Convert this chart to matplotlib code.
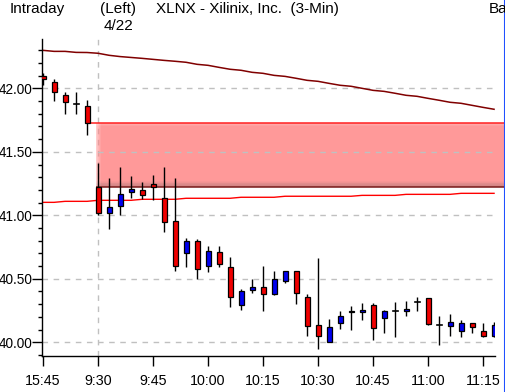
"""Intraday 3-minute candlestick chart for XLNX with gap band and moving averages."""

import matplotlib

matplotlib.use("Agg")
import matplotlib.pyplot as plt
from matplotlib.lines import Line2D
from matplotlib.patches import Rectangle
from matplotlib.ticker import FormatStrFormatter, MultipleLocator

# OHLC for each 3-min bar: 15:45-15:57 of the previous day, then 9:30 onward
opens = [42.10, 42.05, 41.95, 41.88, 41.86, 41.22, 41.02, 41.07, 41.18, 41.20,
         41.245, 41.14, 40.955, 40.705, 40.80, 40.60, 40.71, 40.59, 40.29, 40.41,
         40.435, 40.38, 40.48, 40.56, 40.36, 40.14, 40.005, 40.15, 40.235, 40.235,
         40.29, 40.195, 40.25, 40.25, 40.315, 40.345, 40.135, 40.13, 40.09, 40.15,
         40.09, 40.05]
highs = [42.12, 42.07, 41.97, 41.97, 41.91, 41.41, 41.29, 41.38, 41.31, 41.26,
         41.32, 41.38, 41.29, 40.82, 40.81, 40.76, 40.76, 40.67, 40.42, 40.50,
         40.60, 40.56, 40.565, 40.565, 40.38, 40.665, 40.18, 40.245, 40.285, 40.31,
         40.31, 40.255, 40.315, 40.325, 40.355, 40.35, 40.205, 40.22, 40.175, 40.15,
         40.155, 40.16]
lows = [42.03, 41.90, 41.80, 41.80, 41.63, 41.00, 40.89, 41.00, 41.14, 41.13,
        41.12, 40.87, 40.56, 40.595, 40.50, 40.555, 40.595, 40.28, 40.255, 40.39,
        40.25, 40.375, 40.47, 40.30, 40.05, 39.945, 40.00, 40.105, 40.095, 40.175,
        40.02, 40.075, 40.045, 40.21, 40.245, 40.135, 39.98, 40.05, 40.04, 40.075,
        40.045, 40.04]
closes = [42.07, 41.97, 41.89, 41.875, 41.73, 41.02, 41.065, 41.17, 41.21, 41.16,
          41.22, 40.945, 40.60, 40.80, 40.58, 40.72, 40.615, 40.36, 40.40, 40.435,
          40.38, 40.50, 40.56, 40.385, 40.13, 40.05, 40.12, 40.21, 40.245, 40.255,
          40.115, 40.245, 40.25, 40.26, 40.315, 40.145, 40.135, 40.16, 40.15, 40.12,
          40.05, 40.14]

# slow moving average (dark red) and step line (red)
ma_slow = [42.299, 42.291, 42.291, 42.283, 42.282, 42.276, 42.260, 42.250, 42.243, 42.236,
           42.228, 42.220, 42.213, 42.205, 42.189, 42.181, 42.165, 42.150, 42.142, 42.126,
           42.118, 42.102, 42.094, 42.079, 42.063, 42.055, 42.039, 42.024, 42.016, 42.000,
           41.984, 41.976, 41.961, 41.945, 41.937, 41.921, 41.906, 41.890, 41.882, 41.866,
           41.850, 41.835]
ma_long = [41.102, 41.102, 41.110, 41.110, 41.110, 41.118, 41.118, 41.118, 41.118, 41.126,
           41.126, 41.126, 41.126, 41.134, 41.134, 41.134, 41.134, 41.134, 41.142, 41.142,
           41.142, 41.142, 41.150, 41.150, 41.150, 41.150, 41.150, 41.150, 41.150, 41.157,
           41.157, 41.157, 41.157, 41.165, 41.165, 41.165, 41.165, 41.165, 41.173, 41.173,
           41.173, 41.173]

tick_labels = ["15:45", "9:30", "9:45", "10:00", "10:15", "10:30", "10:45", "11:00", "11:15"]
session_start = 5  # first bar of 4/22

UP = "#0000f0"
DOWN = "#f00000"
GRID = "#c0c0c0"
FONT = ["Liberation Sans", "DejaVu Sans"]

n = len(opens)
fig = plt.figure(figsize=(5.06, 3.92), dpi=100)
ax = fig.add_axes([42.5 / 506, 36 / 392, 452.5 / 506, 316.7 / 392])
ax.set_xlim(-0.05, -0.05 + 452.5 / 11)
ax.set_ylim(39.892, 42.386)
x_end = -0.05 + 462.5 / 11

# grid
ax.yaxis.set_major_locator(MultipleLocator(0.5))
ax.yaxis.set_minor_locator(MultipleLocator(0.1))
ax.grid(axis="y", which="major", color=GRID, linestyle=(0, (4, 4)), lw=1, zorder=0.5)
ax.axvline(session_start, color=GRID, linestyle=(0, (4, 4)), lw=1, zorder=0.5)

# opening gap band: previous close -> today's open
gap_top = closes[session_start - 1]
gap_bot = opens[session_start]
gx0 = session_start - 0.2
ax.fill_between([gx0, x_end], gap_bot, gap_top, color="red", alpha=0.4, lw=0,
                zorder=1, clip_on=False)
h = gap_top - gap_bot
for k in range(8):
    y0 = gap_bot + h * 0.0125 * k
    ax.fill_between([gx0, x_end], y0, y0 + h * 0.0125, color="#505050",
                    alpha=0.32 * (1 - k / 8), lw=0, zorder=1.1, clip_on=False)
for k in range(4):
    y1 = gap_top - h * 0.012 * k
    ax.fill_between([gx0, x_end], y1 - h * 0.012, y1, color="white",
                    alpha=0.3 * (1 - k / 4), lw=0, zorder=1.1, clip_on=False)
for k in range(5):
    ax.fill_between([gx0 + k * 0.09, gx0 + (k + 1) * 0.09], gap_bot, gap_top,
                    color="white", alpha=0.5 * (1 - k / 5), lw=0, zorder=1.2)
ax.plot([session_start - 1, x_end], [gap_top, gap_top], color="#ff2020", lw=1.1,
        zorder=2, clip_on=False, solid_capstyle="butt")
ax.plot([gx0, x_end], [gap_bot, gap_bot], color="#7a1a1a", lw=1.1,
        zorder=2, clip_on=False, solid_capstyle="butt")

# moving averages
xs = list(range(n))
ax.plot(xs, ma_slow, color="#800000", lw=1.1, zorder=2)
ax.plot(xs, ma_long, color="#ff0000", lw=1.0, zorder=2)

# candles
bw = 0.45
for i in range(n):
    o, hi, lo, c = opens[i], highs[i], lows[i], closes[i]
    ax.plot([i, i], [lo, hi], color="black", lw=1.0, zorder=3, solid_capstyle="butt")
    if abs(c - o) < 0.006:
        ax.plot([i - bw / 2, i + bw / 2], [o, o], color="black", lw=1.2, zorder=4)
    else:
        ax.add_patch(Rectangle((i - bw / 2, min(o, c)), bw, abs(c - o),
                               facecolor=UP if c > o else DOWN, edgecolor="black",
                               lw=0.9, zorder=4))

# axes styling
for side in ("top", "right"):
    ax.spines[side].set_visible(False)
ax.spines["left"].set_linewidth(1.0)
ax.spines["bottom"].set_linewidth(1.0)
ax.set_xticks(list(range(0, n, 5)))
ax.set_xticklabels(tick_labels)
ax.yaxis.set_major_formatter(FormatStrFormatter("%.2f"))
ax.tick_params(axis="y", which="major", length=7, width=1, pad=0.3, labelsize=9.8)
ax.tick_params(axis="y", which="minor", length=3, width=1)
ax.tick_params(axis="x", which="major", length=7, width=1, pad=6, labelsize=10.3)
for lab in ax.get_xticklabels() + ax.get_yticklabels():
    lab.set_family(FONT)

# header texts
hdr = dict(ha="left", va="top", fontsize=11, family=FONT)
fig.text(10 / 506, 1 - 2 / 392, "Intraday", **hdr)
fig.text(100 / 506, 1 - 2 / 392, "(Left)", **hdr)
fig.text(104 / 506, 1 - 19 / 392, "4/22", **hdr)
fig.text(156 / 506, 1 - 2 / 392, "XLNX - Xilinix, Inc.  (3-Min)", **hdr)
fig.text(489 / 506, 1 - 2 / 392, "Ba", **hdr)

fig.add_artist(Line2D([505 / 506, 505 / 506], [0, 1], color="#2050ff", lw=1.5,
                      transform=fig.transFigure))

fig.savefig("out.png", dpi=100)
